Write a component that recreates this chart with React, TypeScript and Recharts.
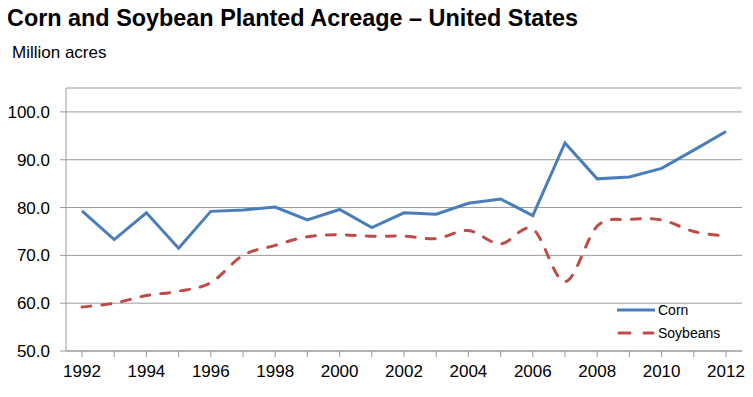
import { LineChart, Line, XAxis, YAxis, CartesianGrid, Legend } from 'recharts'

const years = [
  1992, 1993, 1994, 1995, 1996, 1997, 1998, 1999, 2000, 2001, 2002,
  2003, 2004, 2005, 2006, 2007, 2008, 2009, 2010, 2011, 2012,
]
const corn = [
  79.3, 73.3, 78.9, 71.5, 79.2, 79.5, 80.1, 77.4, 79.6, 75.8, 78.9,
  78.6, 80.9, 81.8, 78.3, 93.5, 86.0, 86.4, 88.2, 92.0, 95.9,
]
const soybeans = [
  59.2, 60.0, 61.6, 62.5, 64.3, 70.0, 72.1, 73.9, 74.3, 74.0, 74.0,
  73.5, 75.2, 72.4, 75.5, 64.5, 76.1, 77.5, 77.4, 75.0, 74.0,
]
const yTicks = [50, 60, 70, 80, 90, 100]

const data = years.map((year, i) => ({ year, corn: corn[i], soybeans: soybeans[i] }))

const FONT = '"Liberation Sans", Arial, sans-serif'
const CORN_COLOR = '#4a7ebb'
const SOY_COLOR = '#be4b48'
const SOY_DASH = '9 11'

// Excel-style smoothed line (uniform Catmull-Rom), as a d3 curve factory
function excelSmooth(context: any) {
  let pts: number[][] = []
  return {
    areaStart() {},
    areaEnd() {},
    lineStart() {
      pts = []
    },
    point(x: number, y: number) {
      pts.push([+x, +y])
    },
    lineEnd() {
      if (!pts.length) return
      context.moveTo(pts[0][0], pts[0][1])
      for (let i = 0; i < pts.length - 1; i++) {
        const p0 = pts[i - 1] || pts[i]
        const p1 = pts[i]
        const p2 = pts[i + 1]
        const p3 = pts[i + 2] || p2
        context.bezierCurveTo(
          p1[0] + (p2[0] - p0[0]) / 6,
          p1[1] + (p2[1] - p0[1]) / 6,
          p2[0] - (p3[0] - p1[0]) / 6,
          p2[1] - (p3[1] - p1[1]) / 6,
          p2[0],
          p2[1],
        )
      }
    },
  }
}

function ChartLegend({ payload }: any) {
  return (
    <svg width={120} height={50} style={{ display: 'block' }}>
      {(payload || []).map((entry: any, i: number) => (
        <g key={entry.value} transform={`translate(0, ${i * 23})`}>
          <line
            x1={entry.dataKey === 'soybeans' ? 4 : 2}
            x2={entry.dataKey === 'soybeans' ? 38 : 40}
            y1={11}
            y2={11}
            stroke={entry.color}
            strokeWidth={3}
            strokeLinecap={entry.dataKey === 'soybeans' ? 'round' : 'butt'}
            strokeDasharray={entry.dataKey === 'soybeans' ? '11 14' : undefined}
          />
          <text x={43} y={16} fontSize={14} fontFamily={FONT} fill="#000">
            {entry.value}
          </text>
        </g>
      ))}
    </svg>
  )
}

export default function App() {
  return (
    <div style={{ position: 'relative', width: 753, height: 397, background: '#fff', margin: -8 }}>
      <div
        style={{
          position: 'absolute',
          left: 7,
          top: 5,
          fontFamily: FONT,
          fontWeight: 'bold',
          fontSize: 23.4,
          color: '#000',
          whiteSpace: 'nowrap',
        }}
      >
        Corn and Soybean Planted Acreage – United States
      </div>
      <div
        style={{
          position: 'absolute',
          left: 12,
          top: 43,
          fontFamily: FONT,
          fontSize: 17,
          color: '#000',
          whiteSpace: 'nowrap',
        }}
      >
        Million acres
      </div>
      <LineChart
        width={753}
        height={397}
        data={data}
        margin={{ top: 88, right: 11, bottom: 16, left: 0 }}
      >
        <CartesianGrid vertical={false} stroke="#999" strokeWidth={1} />
        <XAxis
          dataKey="year"
          interval={0}
          height={30}
          padding={{ left: 16, right: 16 }}
          tickFormatter={(v: number) => (v % 2 === 0 ? String(v) : '')}
          tick={{ fontSize: 17, fill: '#000', fontFamily: FONT }}
          tickSize={6}
          tickMargin={8}
          axisLine={{ stroke: '#999' }}
          tickLine={{ stroke: '#999' }}
        />
        <YAxis
          domain={[50, 105]}
          ticks={yTicks}
          width={66}
          tickFormatter={(v: number) => v.toFixed(1)}
          tick={{ fontSize: 17, fill: '#000', fontFamily: FONT }}
          tickSize={6}
          tickMargin={10}
          axisLine={{ stroke: '#999' }}
          tickLine={{ stroke: '#999' }}
        />
        <Legend
          layout="vertical"
          align="center"
          verticalAlign="middle"
          content={<ChartLegend />}
          wrapperStyle={{ position: 'absolute', left: 615, top: 299, width: 120, height: 50 }}
        />
        <Line
          type="linear"
          dataKey="corn"
          name="Corn"
          stroke={CORN_COLOR}
          strokeWidth={3}
          dot={false}
          isAnimationActive={false}
        />
        <Line
          type={excelSmooth as any}
          dataKey="soybeans"
          name="Soybeans"
          stroke={SOY_COLOR}
          strokeWidth={3}
          strokeLinecap="round"
          strokeDasharray={SOY_DASH}
          dot={false}
          isAnimationActive={false}
        />
      </LineChart>
    </div>
  )
}
